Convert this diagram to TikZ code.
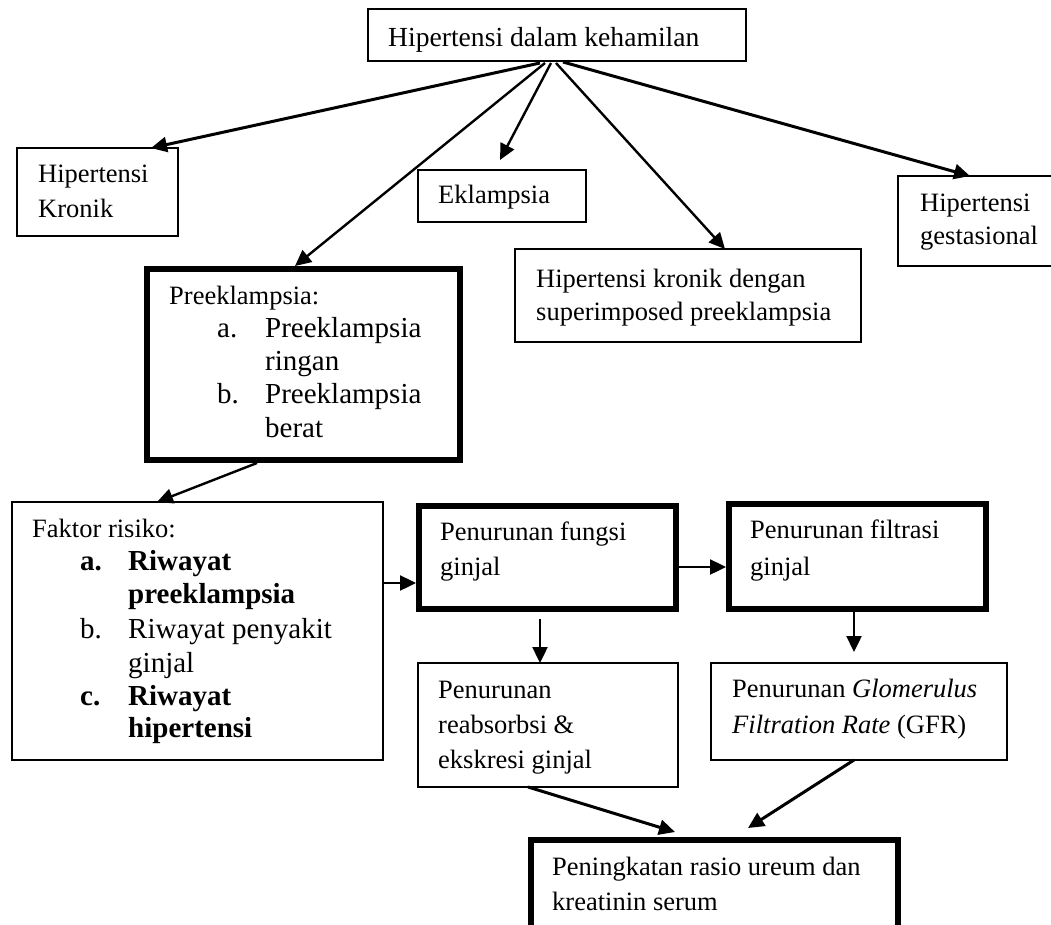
\documentclass[tikz,border=0pt]{standalone}
\usepackage{fontspec}
\setmainfont{Liberation Serif}
\usetikzlibrary{arrows.meta,calc}
\begin{document}
\begin{tikzpicture}[x=1pt,y=-1pt,
  thinbox/.style={draw, line width=1.8pt, inner sep=0pt, outer sep=0pt, anchor=north west},
  thickbox/.style={draw, line width=6pt, inner sep=0pt, outer sep=0pt, anchor=north west},
  txt/.style={anchor=base west, inner sep=0pt, font=\fontsize{26.5}{35}\selectfont},
  toptxt/.style={anchor=base west, inner sep=0pt, font=\fontsize{27.6}{35}\selectfont},
  lst/.style={anchor=base west, inner sep=0pt, font=\fontsize{29}{33}\selectfont},
  lstb/.style={anchor=base west, inner sep=0pt, font=\fontsize{29}{33}\selectfont\bfseries},
  arr/.style={-{Triangle[length=16pt,width=15pt]}, line width=2.4pt},
  arrb/.style={-{Triangle[length=16pt,width=15pt]}, line width=3pt}]
\useasboundingbox (0,0) rectangle (1051,925);
\clip (0,0) rectangle (1051,925);
\fill[white] (0,0) rectangle (1051,925);

% boxes
\node[thinbox, minimum width=378pt, minimum height=52pt] (top) at (368,9) {};
\node[thinbox, minimum width=161pt, minimum height=88pt] (kronik) at (17,148) {};
\node[thinbox, minimum width=168pt, minimum height=52pt] (ekl) at (418,170) {};
\node[thinbox, minimum width=170pt, minimum height=90pt] (gest) at (898,176) {};
\node[thinbox, minimum width=346pt, minimum height=93pt] (super) at (515,249) {};
\node[thickbox, minimum width=313pt, minimum height=191pt] (pre) at (147,269) {};
\node[thinbox, minimum width=371pt, minimum height=258pt] (faktor) at (12,502) {};
\node[thickbox, minimum width=257pt, minimum height=103pt] (fungsi) at (419,506) {};
\node[thickbox, minimum width=257pt, minimum height=105pt] (filtrasi) at (729,504) {};
\node[thinbox, minimum width=260pt, minimum height=124pt] (reab) at (418,663) {};
\node[thinbox, minimum width=296pt, minimum height=97pt] (gfr) at (711,663) {};
\node[thickbox, minimum width=367pt, minimum height=110pt] (pening) at (531,840) {};

% texts
\node[toptxt] (t1) at (388,47) {Hipertensi dalam kehamilan};
\node[txt] (t2a) at (38,183) {Hipertensi};
\node[txt] (t2b) at (38,218) {Kronik};
\node[txt] (t3) at (438,204) {Eklampsia};
\node[txt] (t4a) at (920,212) {Hipertensi};
\node[txt] (t4b) at (920,244) {gestasional};
\node[txt] (t5a) at (536,287) {Hipertensi kronik dengan};
\node[txt] (t5b) at (536,320) {superimposed preeklampsia};
\node[txt] (t6) at (169,304) {Preeklampsia:};
\node[lst] (t6a) at (217,337) {a.};
\node[lst] (t6b) at (265,337) {Preeklampsia};
\node[lst] (t6c) at (265,370) {ringan};
\node[lst] (t6d) at (217,403) {b.};
\node[lst] (t6e) at (265,403) {Preeklampsia};
\node[lst] (t6f) at (265,437) {berat};
\node[txt] (t7) at (32,537) {Faktor risiko:};
\node[lstb] (t7a) at (80,570) {a.};
\node[lstb] (t7b) at (128,570) {Riwayat};
\node[lstb] (t7c) at (128,603) {preeklampsia};
\node[lst] (t7d) at (80,638) {b.};
\node[lst] (t7e) at (128,638) {Riwayat penyakit};
\node[lst] (t7f) at (128,672) {ginjal};
\node[lstb] (t7g) at (80,705) {c.};
\node[lstb] (t7h) at (128,705) {Riwayat};
\node[lstb] (t7i) at (128,737) {hipertensi};
\node[txt] (t8a) at (440,540) {Penurunan fungsi};
\node[txt] (t8b) at (440,575) {ginjal};
\node[txt] (t9a) at (750,538) {Penurunan filtrasi};
\node[txt] (t9b) at (750,575) {ginjal};
\node[txt] (t10a) at (438,698) {Penurunan};
\node[txt] (t10b) at (438,733) {reabsorbsi \&};
\node[txt] (t10c) at (438,768) {ekskresi ginjal};
\node[txt] (t11a) at (732,697) {Penurunan \textit{Glomerulus}};
\node[txt] (t11b) at (732,733) {\textit{Filtration Rate} (GFR)};
\node[txt] (t12a) at (552,875) {Peningkatan rasio ureum dan};
\node[txt] (t12b) at (552,910) {kreatinin serum};

% connectors
\draw[arrb] ($(top.south west)+(172,2)$) -- ($(kronik.north west)+(134,0)$);
\draw[arr] ($(top.south west)+(177,2)$) -- ($(pre.north west)+(148,-3)$);
\draw[arr] ($(top.south west)+(183,2)$) -- ($(ekl.north west)+(82,-10)$);
\draw[arr] ($(top.south west)+(188,2)$) -- ($(super.north west)+(210,0)$);
\draw[arrb] ($(top.south west)+(195,1)$) -- ($(gest.north west)+(72,0)$);
\draw[arr] ($(pre.south west)+(110,3)$) -- ($(faktor.north west)+(145,0)$);
\draw[arr] (faktor.east |- 0,583) -- ($(fungsi.west |- 0,583)+(-3,0)$);
\draw[arr] ($(fungsi.east |- 0,567)+(3,0)$) -- ($(filtrasi.west |- 0,567)+(-3,0)$);
\draw[arr] ($(fungsi.south west)+(121,10)$) -- (reab.north west -| 540,0);
\draw[arr] ($(filtrasi.south west)+(125,3)$) -- ($(gfr.north west)+(143,-11)$);
\draw[arrb] ($(reab.south west)+(110,0)$) -- ($(pening.north west)+(144,-8)$);
\draw[arrb] ($(gfr.south west)+(143,0)$) -- ($(pening.north west)+(217,-12)$);
\end{tikzpicture}
\end{document}
